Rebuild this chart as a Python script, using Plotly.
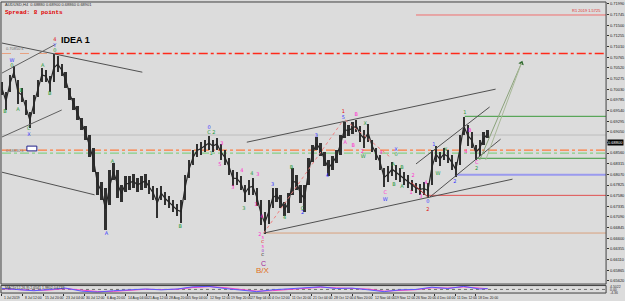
import plotly.graph_objects as go

W, H = 625, 301

# ---------------- data (AUDUSD H4, sampled columns) ----------------
bar_high = [0.7019, 0.6996, 0.7036, 0.7056, 0.7024, 0.7006, 0.6978, 0.6950, 0.6990, 0.7024,
            0.7052, 0.7047, 0.7033, 0.7084, 0.7079, 0.7061, 0.7042, 0.7006, 0.6983, 0.6964,
            0.6937, 0.6918, 0.6898, 0.6868, 0.6812, 0.6789, 0.6776, 0.6817, 0.6833, 0.6817,
            0.6783, 0.6803, 0.6803, 0.6808, 0.6799, 0.6803, 0.6808, 0.6794, 0.6780, 0.6776,
            0.6780, 0.6766, 0.6757, 0.6748, 0.6739, 0.6748, 0.6806, 0.6840, 0.6863, 0.6877,
            0.6881, 0.6886, 0.6895, 0.6886, 0.6891, 0.6877, 0.6863, 0.6845, 0.6817, 0.6812,
            0.6803, 0.6783, 0.6794, 0.6799, 0.6776, 0.6748, 0.6720, 0.6748, 0.6776, 0.6776,
            0.6760, 0.6743, 0.6764, 0.6822, 0.6806, 0.6783, 0.6783, 0.6845, 0.6875, 0.6893,
            0.6879, 0.6858, 0.6840, 0.6849, 0.6863, 0.6898, 0.6927, 0.6921, 0.6927, 0.6932,
            0.6918, 0.6909, 0.6923, 0.6886, 0.6868, 0.6852, 0.6822, 0.6826, 0.6835, 0.6829,
            0.6822, 0.6812, 0.6806, 0.6794, 0.6787, 0.6785, 0.6789, 0.6787, 0.6863, 0.6872,
            0.6858, 0.6868, 0.6863, 0.6852, 0.6835, 0.6898, 0.6939, 0.6921, 0.6904, 0.6875,
            0.6886, 0.6904, 0.6909]
bar_low = [0.6990, 0.6955, 0.6996, 0.7029, 0.6969, 0.6973, 0.6944, 0.6914, 0.6946, 0.6985,
           0.7019, 0.7019, 0.6996, 0.7019, 0.7042, 0.7033, 0.7006, 0.6978, 0.6955, 0.6932,
           0.6909, 0.6886, 0.6847, 0.6812, 0.6760, 0.6748, 0.6679, 0.6737, 0.6794, 0.6753,
           0.6743, 0.6766, 0.6771, 0.6776, 0.6766, 0.6771, 0.6776, 0.6762, 0.6748, 0.6707,
           0.6748, 0.6737, 0.6730, 0.6720, 0.6711, 0.6695, 0.6748, 0.6799, 0.6829, 0.6847,
           0.6852, 0.6858, 0.6863, 0.6858, 0.6863, 0.6840, 0.6829, 0.6806, 0.6780, 0.6783,
           0.6771, 0.6743, 0.6760, 0.6760, 0.6734, 0.6691, 0.6670, 0.6693, 0.6730, 0.6743,
           0.6730, 0.6711, 0.6718, 0.6760, 0.6771, 0.6741, 0.6720, 0.6783, 0.6835, 0.6863,
           0.6849, 0.6826, 0.6803, 0.6817, 0.6833, 0.6852, 0.6891, 0.6895, 0.6900, 0.6904,
           0.6881, 0.6868, 0.6881, 0.6858, 0.6840, 0.6817, 0.6778, 0.6789, 0.6803, 0.6794,
           0.6789, 0.6783, 0.6776, 0.6769, 0.6764, 0.6760, 0.6760, 0.6753, 0.6783, 0.6835,
           0.6826, 0.6840, 0.6833, 0.6817, 0.6801, 0.6829, 0.6898, 0.6872, 0.6868, 0.6840,
           0.6849, 0.6875, 0.6891]
bar_idx = list(range(len(bar_high)))

date_labels = ["1 Jul 2019", "8 Jul 12:00", "15 Jul 20:00", "23 Jul 04:00", "30 Jul 12:00",
               "6 Aug 20:00", "14 Aug 04:00", "21 Aug 12:00", "28 Aug 20:00", "5 Sep 04:00",
               "12 Sep 12:00", "19 Sep 20:00", "27 Sep 04:00", "4 Oct 12:00", "11 Oct 20:00",
               "21 Oct 04:00", "28 Oct 12:00", "4 Nov 20:00", "12 Nov 04:00", "19 Nov 12:00",
               "26 Nov 20:00", "4 Dec 04:00", "11 Dec 12:00", "18 Dec 20:00"]
date_idx = [0, 5.18, 10.35, 15.53, 20.7, 25.88, 31.05, 36.23, 41.4, 46.58, 51.75, 56.93,
            62.1, 67.28, 72.45, 77.63, 82.8, 87.98, 93.15, 98.33, 103.5, 108.68, 113.85, 119.03]

price_ticks = [0.71990, 0.71745, 0.71500, 0.71255, 0.71010, 0.70765, 0.70520, 0.70275,
               0.70030, 0.69785, 0.69540, 0.69295, 0.69050, 0.68805, 0.68560, 0.68315,
               0.68070, 0.67825, 0.67580, 0.67335, 0.67090, 0.66845, 0.66600, 0.66355,
               0.66110, 0.65865, 0.65620]

current_price = 0.68800

# horizontal levels
lvl_price = [0.71735, 0.70850, 0.69405, 0.68975, 0.68630, 0.68561, 0.68440, 0.68062, 0.67588, 0.66721]
lvl_start = [104, 13.25, 116.25, 0, 0, 0, 119.25, 113.75, 107, 65.75]
lvl_color = ["#f07070", "#ff2a1a", "#3c9a3c", "#bdbdbd", "#ff7a3c", "#86cf86", "#3c9a3c",
             "#9a9aee", "#e05050", "#d8a07c"]
lvl_dash = ["solid", "dashdot", "solid", "solid", "dashdot", "dashdot", "solid", "solid", "solid", "solid"]
lvl_width = [1, 1.5, 1, 1, 1.2, 1.2, 1, 2, 1, 1]

# trend lines (bar index, price)
tl_k0 = [0, 0, 0, 0, 61.5, 65.75, 104, 107.5, 102.75]
tl_p0 = [0.7109, 0.7040, 0.6893, 0.6812, 0.6881, 0.6672, 0.6831, 0.6755, 0.6789]
tl_k1 = [35.25, 13.25, 15, 23.25, 124, 128.25, 122.5, 125.25, 107]
tl_p1 = [0.7042, 0.7105, 0.6955, 0.6760, 0.7003, 0.6796, 0.6962, 0.6888, 0.6755]
tl_color = ["#505050", "#606060", "#606060", "#505050", "#505050", "#505050", "#505050",
            "#505050", "#b03030"]

dot_k0 = [65.75, 86.25]
dot_p0 = [0.6672, 0.6932]
dot_k1 = [85.75, 97.75]
dot_p1 = [0.6932, 0.6845]

arrow_k = [120, 130.5]
arrow_p = [0.6840, 0.7063]

G, B, P, R, K = "#1f9a3a", "#3535ff", "#ff30d0", "#e01010", "#202020"
wl_k = [2.5, 2.5, 0.75, 4.0, 4.75, 6.75, 6.75, 10.25, 12.0, 13.25, 13.25, 13.25,
        26.25, 27.75, 44.75, 52.0, 52.0, 53.2, 52.5, 55.25, 54.75, 60.25, 58.0, 60.75,
        62.75, 64.25, 63.75, 65.25, 64.75,
        68.0, 72.75, 75.5, 75.5, 71.0, 79.0, 81.75, 85.75, 85.75, 86.25, 89.0, 88.25,
        91.25, 90.5, 90.75, 96.25, 96.25, 99.0, 99.0, 98.25, 100.5, 95.25, 98.5, 100.5,
        103.25, 106.5, 102.75, 105.25, 107.0, 107.0, 108.5, 109.5, 111.5, 113.75, 116.25,
        117.5, 116.5, 119.25, 119.25]
wl_p = [0.7068, 0.7057, 0.6950, 0.6955, 0.6999, 0.6911, 0.6897, 0.7056, 0.6992, 0.7116, 0.7103, 0.7091,
        0.6670, 0.6835, 0.6686, 0.6914, 0.6903, 0.6902, 0.6854, 0.6877, 0.6828, 0.6815, 0.6776, 0.6727,
        0.6808, 0.6806, 0.6737, 0.6709, 0.6668,
        0.6782, 0.6822, 0.6729, 0.6718, 0.6707, 0.6895, 0.6803, 0.6950, 0.6937, 0.6879, 0.6944, 0.6872,
        0.6923, 0.6858, 0.6847, 0.6764, 0.6748, 0.6863, 0.6852, 0.6828, 0.6822, 0.6856, 0.6783, 0.6778,
        0.6803, 0.6787, 0.6764, 0.6755, 0.6743, 0.6725, 0.6874, 0.6808, 0.6863, 0.6789, 0.6948,
        0.6907, 0.6858, 0.6833, 0.6819]
wl_text = ["W", "0", "B", "A", "B", "C", "X", "A", "B", "4", "Y", "0",
           "A", "A", "B", "0", "C", "2", "1", "3", "5", "4", "3", "3",
           "4", "3", "1", "4", "2",
           "3", "B", "C", "2", "4", "3", "4", "1", "5", "A", "B", "B",
           "X", "2", "W", "C", "W", "X", "0", "A", "B", "4", "B", "A",
           "2", "4", "1", "3", "0", "2", "1", "W", "X", "2", "1",
           "B", "4", "C", "2"]
wl_color = [B, G, G, G, G, G, B, G, G, R, B, G,
            B, G, G, B, G, G, G, P, P, P, P, G,
            G, P, P, P, P,
            B, G, G, B, G, B, B, R, B, P, P, P,
            G, P, G, P, B, B, G, G, G, P, G, G,
            P, P, P, P, B, R, B, G, G, B, G,
            P, P, P, G]

# stacked labels under the October low
stack_k = [65.5, 65.5, 65.5, 65.5, 65.5]
stack_p = [0.6661, 0.6651, 0.6641, 0.6631, 0.6621]
stack_text = ["5", "C", "5", "0", "C"]
stack_color = [P, R, P, "#9933cc", K]

ind_k = [0, 4, 8, 12, 16, 20, 24, 28, 32, 36, 40, 44, 48, 52, 56, 60, 64, 68, 72, 76,
         80, 84, 88, 92, 96, 100, 104, 108, 112, 116, 120, 122]
ind_blue = [1.5, -0.6, -1.9, 0, 1.9, -2.5, -3.8, -1.9, -0.6, 0.6, -0.6, 0.6, 3.8, 4.4, 1.3, -1.3,
            -3.2, -0.6, 0.6, 2.5, 3.8, 1.3, 1.9, -0.6, -3.2, -0.6, 0, 3.2, 1.3, 4.4, 0.6, 1.3]
ind_mag = [1.0, 0.2, -1.5, -0.8, 1.2, -1.0, -3.0, -2.8, -1.0, 0.2, -0.2, 0.2, 2.8, 4.0, 2.5, -0.3,
           -2.5, -1.8, 0.0, 1.8, 3.2, 2.2, 1.5, 0.5, -2.5, -1.6, -0.4, 2.4, 2.0, 3.6, 1.6, 1.0]

# ---------------- figure ----------------
BG = "#dcdcdc"
FONT = "Liberation Sans"
XMAX = 151.75

def px(x):
    return x / W

def py(y):
    return 1 - y / H

fig = go.Figure()

# price bars: thin high-low bars plus the median path through them
fig.add_trace(go.Bar(x=bar_idx, base=bar_low,
                     y=[h - l for h, l in zip(bar_high, bar_low)],
                     width=0.6, marker=dict(color="#303030", line=dict(width=0)),
                     hoverinfo="skip", showlegend=False, xaxis="x", yaxis="y"))
fig.add_trace(go.Scatter(x=bar_idx, y=[(h + l) / 2 for h, l in zip(bar_high, bar_low)],
                         mode="lines", line=dict(color="#262626", width=1.2),
                         hoverinfo="skip", showlegend=False, xaxis="x", yaxis="y"))

shapes = []
for p, s, c, d, w in zip(lvl_price, lvl_start, lvl_color, lvl_dash, lvl_width):
    shapes.append(dict(type="line", xref="x", yref="y", x0=s, x1=XMAX, y0=p, y1=p,
                       line=dict(color=c, width=w, dash=d), layer="below"))
shapes.append(dict(type="line", xref="x", yref="y", x0=0, x1=13.25, y0=lvl_price[1], y1=lvl_price[1],
                   line=dict(color="#e8a080", width=1, dash="dash"), layer="below"))
for a, b, c, d, col in zip(tl_k0, tl_p0, tl_k1, tl_p1, tl_color):
    shapes.append(dict(type="line", xref="x", yref="y", x0=a, y0=b, x1=c, y1=d,
                       line=dict(color=col, width=1)))
for a, b, c, d in zip(dot_k0, dot_p0, dot_k1, dot_p1):
    shapes.append(dict(type="line", xref="x", yref="y", x0=a, y0=b, x1=c, y1=d,
                       line=dict(color="#f08080", width=1, dash="dot")))
shapes.append(dict(type="line", xref="x", yref="y", x0=arrow_k[0], y0=arrow_p[0], x1=arrow_k[1], y1=arrow_p[1],
                   line=dict(color="#8aa27a", width=1)))
shapes.append(dict(type="line", xref="x", yref="y", x0=arrow_k[0] + 1.5, y0=arrow_p[0], x1=arrow_k[1], y1=arrow_p[1],
                   line=dict(color="#a8b898", width=1)))
shapes.append(dict(type="rect", xref="x", yref="y", x0=6.25, x1=8.75, y0=0.6861, y1=0.6872,
                   line=dict(color="#20208a", width=1), fillcolor="white"))
shapes.append(dict(type="rect", xref="paper", yref="paper", x0=px(1), x1=px(609), y0=py(284), y1=py(1),
                   line=dict(color="#404040", width=1)))
shapes.append(dict(type="rect", xref="paper", yref="paper", x0=px(1), x1=px(609), y0=py(293), y1=py(285.5),
                   line=dict(color="#404040", width=1)))

fig.add_trace(go.Scatter(x=[arrow_k[1]], y=[arrow_p[1]], mode="markers",
                         marker=dict(symbol="triangle-up", size=5, color="#2f6a2f", angle=20),
                         hoverinfo="skip", showlegend=False, xaxis="x", yaxis="y"))

fig.add_trace(go.Scatter(x=wl_k, y=wl_p, mode="text", text=wl_text,
                         textfont=dict(size=5, color=wl_color, family="DejaVu Sans"),
                         hoverinfo="skip", showlegend=False, xaxis="x", yaxis="y"))
fig.add_trace(go.Scatter(x=stack_k, y=stack_p, mode="text", text=stack_text,
                         textfont=dict(size=4, color=stack_color, family="DejaVu Sans"),
                         hoverinfo="skip", showlegend=False, xaxis="x", yaxis="y"))

fig.add_trace(go.Scatter(x=[0, XMAX], y=[0, 0], mode="lines", line=dict(color="#555555", width=0.8, dash="dot"),
                         hoverinfo="skip", showlegend=False, xaxis="x", yaxis="y2"))
fig.add_trace(go.Scatter(x=ind_k, y=ind_mag, mode="lines", line=dict(color="#ff40c0", width=1),
                         hoverinfo="skip", showlegend=False, xaxis="x", yaxis="y2"))
fig.add_trace(go.Scatter(x=ind_k, y=ind_blue, mode="lines", line=dict(color="#5a5aff", width=1),
                         hoverinfo="skip", showlegend=False, xaxis="x", yaxis="y2"))

ann = []
for k, t in zip(date_idx, date_labels):
    ann.append(dict(x=k, xref="x", y=py(297.5), yref="paper", text=t, showarrow=False,
                    xanchor="left", yanchor="middle", font=dict(size=3.4, color="#202020", family=FONT)))
ann += [
    dict(x=px(3), y=py(4), xref="paper", yref="paper", text="AUDUSD,H4  0.68880 0.68900 0.68860 0.68901",
         showarrow=False, xanchor="left", yanchor="middle", font=dict(size=4, color="#303030", family=FONT)),
    dict(x=px(3), y=py(11.5), xref="paper", yref="paper", text="<b>Spread: 8 points</b>",
         showarrow=False, xanchor="left", yanchor="middle", font=dict(size=6, color="#e00000", family="Liberation Mono")),
    dict(x=18.5, y=0.7116, xref="x", yref="y", text="<b>IDEA 1</b>", showarrow=False,
         font=dict(size=9, color="#000000", family=FONT)),
    dict(x=65.6, y=0.6601, xref="x", yref="y", text="C", showarrow=False,
         font=dict(size=7, color="#a0209a", family=FONT)),
    dict(x=65.6, y=0.6585, xref="x", yref="y", text="B/X", showarrow=False,
         font=dict(size=8, color="#e07020", family=FONT)),
    dict(x=151.0, y=lvl_price[0], xref="x", yref="y", text="R1 2019 1.5725", showarrow=False,
         xanchor="right", yanchor="bottom", font=dict(size=4, color="#e03030", family=FONT)),
    dict(x=0.5, y=lvl_price[1], xref="x", yref="y", text="0.70850 k", showarrow=False,
         xanchor="left", yanchor="bottom", font=dict(size=4, color="#707070", family=FONT)),
    dict(x=0.5, y=lvl_price[4], xref="x", yref="y", text="0.68630 k", showarrow=False,
         xanchor="left", yanchor="middle", font=dict(size=4, color="#707070", family=FONT)),
    dict(x=px(610), y=current_price, xref="paper", yref="y", text="%.5f" % current_price, showarrow=False,
         xanchor="left", yanchor="middle", bgcolor="#000000", font=dict(size=4, color="white", family=FONT),
         borderpad=0),
    dict(x=px(611), y=py(286.5), xref="paper", yref="paper", text="4.5022", showarrow=False,
         xanchor="left", yanchor="middle", font=dict(size=3.5, color="#303030", family=FONT)),
    dict(x=px(611), y=py(289.5), xref="paper", yref="paper", text="0.00", showarrow=False,
         xanchor="left", yanchor="middle", font=dict(size=3.5, color="#303030", family=FONT)),
    dict(x=px(611), y=py(292.5), xref="paper", yref="paper", text="-4.36", showarrow=False,
         xanchor="left", yanchor="middle", font=dict(size=3.5, color="#303030", family=FONT)),
    dict(x=px(3), y=py(287.5), xref="paper", yref="paper", text="MACD(12,26,9) 2.6541 1.9802 0.6739",
         showarrow=False, xanchor="left", yanchor="middle", font=dict(size=3.5, color="#303030", family=FONT)),
]

price_text = ["" if abs(v - current_price) < 0.0012 else "%.5f" % v for v in price_ticks]

fig.update_layout(
    width=W, height=H, margin=dict(l=0, r=0, t=0, b=0),
    paper_bgcolor=BG, plot_bgcolor=BG, showlegend=False, bargap=0,
    shapes=shapes, annotations=ann,
    xaxis=dict(domain=[px(1), px(609)], range=[-0.25, XMAX], anchor="y2", showgrid=False, zeroline=False,
               tickvals=date_idx, ticktext=[""] * len(date_idx), ticks="outside", ticklen=2,
               tickcolor="#303030", showline=False, fixedrange=True),
    yaxis=dict(domain=[py(284), py(1)], range=[0.65548, 0.72034], side="right", anchor="x",
               showgrid=False, zeroline=False, tickvals=price_ticks,
               ticktext=price_text, ticks="outside", ticklen=2,
               tickcolor="#303030", tickfont=dict(size=4, color="#202020", family=FONT),
               showline=False),
    yaxis2=dict(domain=[py(293), py(285.5)], range=[-5.2, 5.6], side="right", anchor="x",
                showgrid=False, zeroline=False, showticklabels=False, ticks=""),
)

fig.write_html("out.html")
